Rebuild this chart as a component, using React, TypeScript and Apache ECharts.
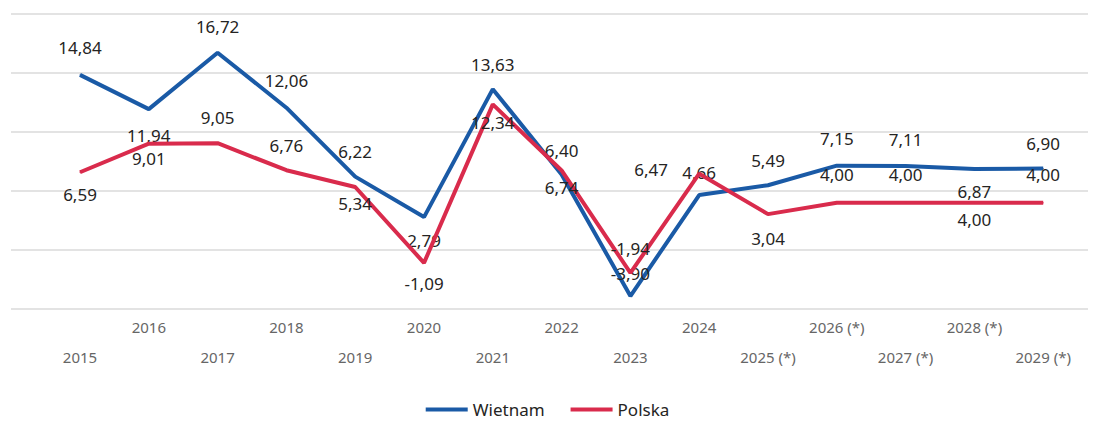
import React, { useEffect, useRef } from "react";
import * as echarts from "echarts";

const categories = [
  "2015", "2016", "2017", "2018", "2019", "2020", "2021", "2022", "2023", "2024",
  "2025 (*)", "2026 (*)", "2027 (*)", "2028 (*)", "2029 (*)",
];
const wietnam = [14.84, 11.94, 16.72, 12.06, 6.22, 2.79, 13.63, 6.4, -3.9, 4.66, 5.49, 7.15, 7.11, 6.87, 6.9];
const polska = [6.59, 9.01, 9.05, 6.76, 5.34, -1.09, 12.34, 6.74, -1.94, 6.47, 3.04, 4.0, 4.0, 4.0, 4.0];

// label placement (layout only): vertical offset of label centre from point, and horizontal shift
const wietnamLabelDy = [-27, 26, -26, -27, -25, 23, -25, -24, -23, -23, -25, -27, -27, 23, -25];
const polskaLabelDy = [22, 15, -26, -25, 17, 21, 18, 17, -24, -4, 24, -28, -28, 17, -28];
const polskaLabelDx = [0, 0, 0, 0, 0, 0, 0, 0, 0, -48, 0, 0, 0, 0, 0];

const BLUE = "#1a5aa6";
const RED = "#d92b4c";
const FONT = "'Segoe UI', 'Noto Sans', sans-serif";

const fmt = (v: number) => v.toFixed(2).replace(".", ",");

export default function App() {
  const ref = useRef<HTMLDivElement>(null);
  useEffect(() => {
    if (!ref.current) return;
    const chart = echarts.init(ref.current, undefined, { renderer: "svg" });
    const labelStyle = {
      show: true,
      position: "inside",
      color: "#252423",
      fontSize: 17,
      fontFamily: FONT,
      formatter: (p: any) => fmt(p.value),
    };
    chart.setOption({
      animation: false,
      backgroundColor: "#ffffff",
      grid: [
        { left: 11, width: 1077, top: 14, height: 295 },
        { left: 45.6, width: 1032, top: 14, height: 295 },
      ],
      xAxis: [
        { type: "value", gridIndex: 0, min: 0, max: 1, show: false },
        {
          type: "category",
          gridIndex: 1,
          data: categories,
          boundaryGap: true,
          axisLine: { show: false },
          axisTick: { show: false },
          axisLabel: {
            interval: 0,
            margin: 3,
            color: "#666666",
            fontSize: 15,
            fontFamily: FONT,
            lineHeight: 30,
            hideOverlap: false,
            formatter: (v: string, i: number) => (i % 2 === 0 ? "\n" + v : v),
          },
        },
      ],
      yAxis: [
        {
          type: "value",
          gridIndex: 0,
          min: -5,
          max: 20,
          interval: 5,
          axisLabel: { show: false },
          axisLine: { show: false },
          axisTick: { show: false },
          splitLine: { show: true, lineStyle: { color: "#e3e3e3", width: 2 } },
        },
        {
          type: "value",
          gridIndex: 1,
          min: -5,
          max: 20,
          interval: 5,
          show: false,
          splitLine: { show: false },
        },
      ],
      legend: {
        left: "center",
        top: 401,
        padding: 0,
        itemWidth: 42,
        itemHeight: 4,
        itemGap: 26,
        icon: "rect",
        textStyle: { color: "#252423", fontSize: 17, fontFamily: FONT },
        data: ["Wietnam", "Polska"],
      },
      series: [
        {
          name: "Wietnam",
          type: "line",
          xAxisIndex: 1,
          yAxisIndex: 1,
          symbol: "circle",
          symbolSize: 1,
          showSymbol: true,
          color: BLUE,
          lineStyle: { color: BLUE, width: 4 },
          itemStyle: { color: BLUE },
          z: 3,
          data: wietnam.map((v, i) => ({
            value: v,
            label: { ...labelStyle, offset: [0, wietnamLabelDy[i]] },
          })),
        },
        {
          name: "Polska",
          type: "line",
          xAxisIndex: 1,
          yAxisIndex: 1,
          symbol: "circle",
          symbolSize: 1,
          showSymbol: true,
          color: RED,
          lineStyle: { color: RED, width: 4 },
          itemStyle: { color: RED },
          z: 4,
          data: polska.map((v, i) => ({
            value: v,
            label: { ...labelStyle, offset: [polskaLabelDx[i], polskaLabelDy[i]] },
          })),
        },
      ],
    });
    return () => chart.dispose();
  }, []);
  return (
    <div
      ref={ref}
      style={{ position: "fixed", left: 0, top: 0, width: 1095, height: 421, background: "#fff" }}
    />
  );
}
